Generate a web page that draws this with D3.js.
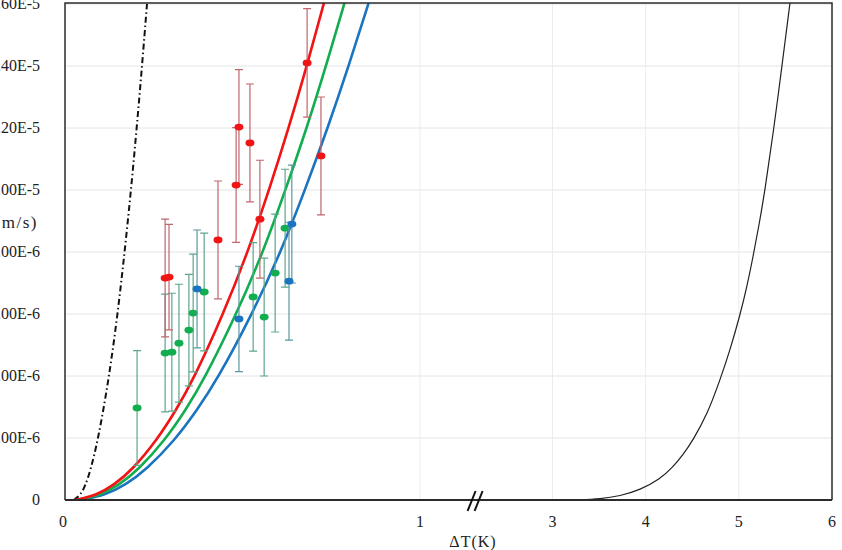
<!DOCTYPE html>
<html>
<head>
<meta charset="utf-8">
<script src="https://cdn.jsdelivr.net/npm/d3@7"></script>
<style>
    html, body { margin: 0; padding: 0; background: #fff; overflow: hidden; }
    svg { display: block; font-family: "Liberation Serif", "DejaVu Serif", serif; }
    .tick-label { font-size: 16px; fill: #222; }
</style>
</head>
<body>
<div id="vis1"></div>
<script>
// ---- data ----
const xTicks = [0, 1, 3, 4, 5, 6];
const xGridTicks = [1, 3, 4, 5];
const yTicks = [0, 2e-6, 4e-6, 6e-6, 8e-6, 1e-5, 1.2e-5, 1.4e-5, 1.6e-5];
const xTitle = "ΔT(K)";
const yTitle = "V(m/s)";
const xBreakAt = 2.15;

// measured points
const redX = [0.282, 0.293, 0.431, 0.482, 0.490, 0.521, 0.549, 0.682, 0.721];
const redY = [7.16e-6, 7.19e-6, 8.39e-6, 1.016e-5, 1.203e-5, 1.152e-5, 9.06e-6, 1.41e-5, 1.11e-5];
const redErr = [1.9e-6, 1.7e-6, 1.9e-6, 1.85e-6, 1.85e-6, 1.9e-6, 1.9e-6, 1.75e-6, 1.9e-6];

const greenX = [0.203, 0.282, 0.301, 0.321, 0.349, 0.361, 0.392, 0.530, 0.561, 0.592, 0.620];
const greenY = [2.97e-6, 4.74e-6, 4.77e-6, 5.06e-6, 5.48e-6, 6.03e-6, 6.71e-6, 6.55e-6, 5.90e-6, 7.32e-6, 8.77e-6];
const greenErr = [1.85e-6, 1.9e-6, 1.9e-6, 1.9e-6, 1.8e-6, 1.9e-6, 1.9e-6, 1.75e-6, 1.9e-6, 1.9e-6, 1.9e-6];

const blueX = [0.372, 0.490, 0.631, 0.639];
const blueY = [6.81e-6, 5.84e-6, 7.06e-6, 8.90e-6];
const blueErr = [1.9e-6, 1.7e-6, 1.9e-6, 1.9e-6];

// model curves
const curveY = [0, 0.161e-6, 0.484e-6, 0.968e-6, 1.935e-6, 2.903e-6, 3.871e-6, 5.968e-6, 8.0e-6, 1.0e-5, 1.203e-5, 1.403e-5, 1.606e-5];
const redCurveX = [0.028, 0.090, 0.138, 0.189, 0.259, 0.313, 0.361, 0.445, 0.515, 0.575, 0.631, 0.682, 0.730];
const greenCurveX = [0.034, 0.101, 0.152, 0.206, 0.282, 0.340, 0.391, 0.482, 0.558, 0.621, 0.682, 0.736, 0.788];
const blueCurveX = [0.042, 0.114, 0.170, 0.228, 0.310, 0.372, 0.428, 0.526, 0.608, 0.676, 0.741, 0.800, 0.856];

const dashCurveX = [0.025, 0.044, 0.058, 0.072, 0.093, 0.123, 0.148, 0.168, 0.186, 0.202, 0.217, 0.231];
const dashCurveY = [0, 0.161e-6, 0.484e-6, 0.968e-6, 1.935e-6, 3.871e-6, 5.968e-6, 8.0e-6, 1.0e-5, 1.2e-5, 1.4e-5, 1.6e-5];

const blackCurveX = [2.2, 3.08, 3.295, 3.51, 3.725, 3.94, 4.154, 4.283, 4.40, 4.508, 4.658, 4.798, 4.906, 5.013, 5.088, 5.152, 5.217, 5.281, 5.378, 5.464, 5.550];
const blackCurveY = [0, 0, 0.006e-6, 0.032e-6, 0.129e-6, 0.323e-6, 0.677e-6, 1.032e-6, 1.452e-6, 1.935e-6, 2.742e-6, 3.871e-6, 4.84e-6, 5.968e-6, 6.9e-6, 7.84e-6, 8.87e-6, 1.0e-5, 1.203e-5, 1.403e-5, 1.606e-5];

// ---- chart ----
const width = 842;
const height = 550;
const margin = { left: 65, top: 3, right: 10, bottom: 50 };

const red = "#f01414";
const green = "#12ad4f";
const blue = "#1a74c0";

const svg = d3.select("#vis1")
    .append("svg")
    .attr("width", width)
    .attr("height", height)
    .attr("viewBox", `0 0 ${width} ${height}`);

// broken x axis: [0,1] wide, then 2.2..6 compressed
const xScale = d3.scaleLinear()
    .domain([0, 1, 2.2, 6])
    .range([margin.left, 420, 478, width - margin.right]);

const yScale = d3.scaleLinear()
    .domain([0, 1.6e-5])
    .range([height - margin.bottom, margin.top + 1]);

const x0 = margin.left, x1 = width - margin.right;
const y0 = height - margin.bottom, y1 = margin.top;

svg.append("clipPath")
    .attr("id", "plot-clip")
    .append("rect")
        .attr("x", x0)
        .attr("y", y1)
        .attr("width", x1 - x0)
        .attr("height", y0 - y1);

// gridlines
svg.append("g")
    .attr("class", "grid-y")
    .selectAll("line")
    .data(yTicks.filter(d => d > 0))
    .join("line")
        .attr("x1", x0)
        .attr("x2", x1)
        .attr("y1", d => yScale(d))
        .attr("y2", d => yScale(d))
        .attr("stroke", "#e4e4e4")
        .attr("stroke-width", 1);

svg.append("g")
    .attr("class", "grid-x")
    .selectAll("line")
    .data(xGridTicks)
    .join("line")
        .attr("x1", d => xScale(d))
        .attr("x2", d => xScale(d))
        .attr("y1", y1)
        .attr("y2", y0)
        .attr("stroke", "#ececec")
        .attr("stroke-width", 1);

// tick labels (the y labels run off the left edge, as in the original)
svg.append("g")
    .selectAll(".tick-label")
    .data(yTicks)
    .join("text")
        .attr("class", "tick-label")
        .attr("text-anchor", "end")
        .attr("x", 40)
        .attr("y", d => yScale(d) + 5)
        .text(d => d === 0 ? "0" : d.toExponential(2).toUpperCase());

svg.append("g")
    .selectAll(".tick-label")
    .data(xTicks)
    .join("text")
        .attr("class", "tick-label")
        .attr("text-anchor", "middle")
        .attr("x", d => xScale(d) - (d === 0 ? 2 : 0))
        .attr("y", y0 + 27)
        .text(d => d);

// axis titles
svg.append("text")
    .attr("x", 473)
    .attr("y", 547)
    .attr("text-anchor", "middle")
    .style("font-size", "16px")
    .style("letter-spacing", "1px")
    .attr("fill", "#222")
    .text(xTitle);

svg.append("text")
    .attr("x", 38)
    .attr("y", 228)
    .attr("text-anchor", "end")
    .style("font-size", "17px")
    .style("letter-spacing", "1.5px")
    .attr("fill", "#222")
    .text(yTitle);

// curves
const plot = svg.append("g").attr("clip-path", "url(#plot-clip)");

const line = d3.line()
    .x(d => xScale(d[0]))
    .y(d => yScale(d[1]))
    .curve(d3.curveBasis);

const curves = [
    { xs: blackCurveX, ys: blackCurveY, color: "#222", w: 1.2, dash: null },
    { xs: dashCurveX, ys: dashCurveY, color: "#111", w: 2, dash: "6,3,1.5,3" },
    { xs: blueCurveX, ys: curveY, color: blue, w: 2.6, dash: null },
    { xs: greenCurveX, ys: curveY, color: green, w: 2.6, dash: null },
    { xs: redCurveX, ys: curveY, color: red, w: 2.6, dash: null }
];

plot.selectAll(".curve")
    .data(curves)
    .join("path")
        .attr("class", "curve")
        .attr("fill", "none")
        .attr("stroke", d => d.color)
        .attr("stroke-width", d => d.w)
        .attr("stroke-dasharray", d => d.dash)
        .attr("d", d => line(d.xs.map((x, i) => [x, d.ys[i]])));

// measured points with error bars
const series = [
    { xs: greenX, ys: greenY, errs: greenErr, color: green, barColor: "#5ea58c" },
    { xs: blueX, ys: blueY, errs: blueErr, color: blue, barColor: "#5a98a0" },
    { xs: redX, ys: redY, errs: redErr, color: red, barColor: "#c0666e" }
];

const gSeries = plot.selectAll(".series")
    .data(series)
    .join("g")
        .attr("class", "series");

gSeries.selectAll(".err")
    .data(s => s.xs.map((x, i) => ({ x, y: s.ys[i], e: s.errs[i], c: s.barColor })))
    .join("path")
        .attr("class", "err")
        .attr("fill", "none")
        .attr("stroke", d => d.c)
        .attr("stroke-width", 1.2)
        .attr("d", d => {
            const cx = xScale(d.x);
            const top = yScale(d.y + d.e);
            const bot = yScale(d.y - d.e);
            return `M${cx},${top}V${bot}M${cx - 4},${top}H${cx + 4}M${cx - 4},${bot}H${cx + 4}`;
        });

gSeries.selectAll(".pt")
    .data(s => s.xs.map((x, i) => ({ x, y: s.ys[i], c: s.color })))
    .join("ellipse")
        .attr("class", "pt")
        .attr("cx", d => xScale(d.x))
        .attr("cy", d => yScale(d.y))
        .attr("rx", 4.5)
        .attr("ry", 3.4)
        .attr("fill", d => d.c);

// frame
svg.append("path")
    .attr("fill", "none")
    .attr("stroke", "#2b2b2b")
    .attr("stroke-width", 1.5)
    .attr("d", `M${x0},${y0}V${y1}H${x1}V${y0}`);

svg.append("line")
    .attr("x1", x0)
    .attr("x2", x1)
    .attr("y1", y0)
    .attr("y2", y0)
    .attr("stroke", "#2b2b2b")
    .attr("stroke-width", 2.2);

// axis break marks
const bx = xScale(xBreakAt);
svg.selectAll(".break-mark")
    .data([-4, 3])
    .join("line")
        .attr("class", "break-mark")
        .attr("x1", d => bx + d - 4)
        .attr("x2", d => bx + d + 4)
        .attr("y1", y0 + 11)
        .attr("y2", y0 - 9)
        .attr("stroke", "#111")
        .attr("stroke-width", 2);
</script>
</body>
</html>
